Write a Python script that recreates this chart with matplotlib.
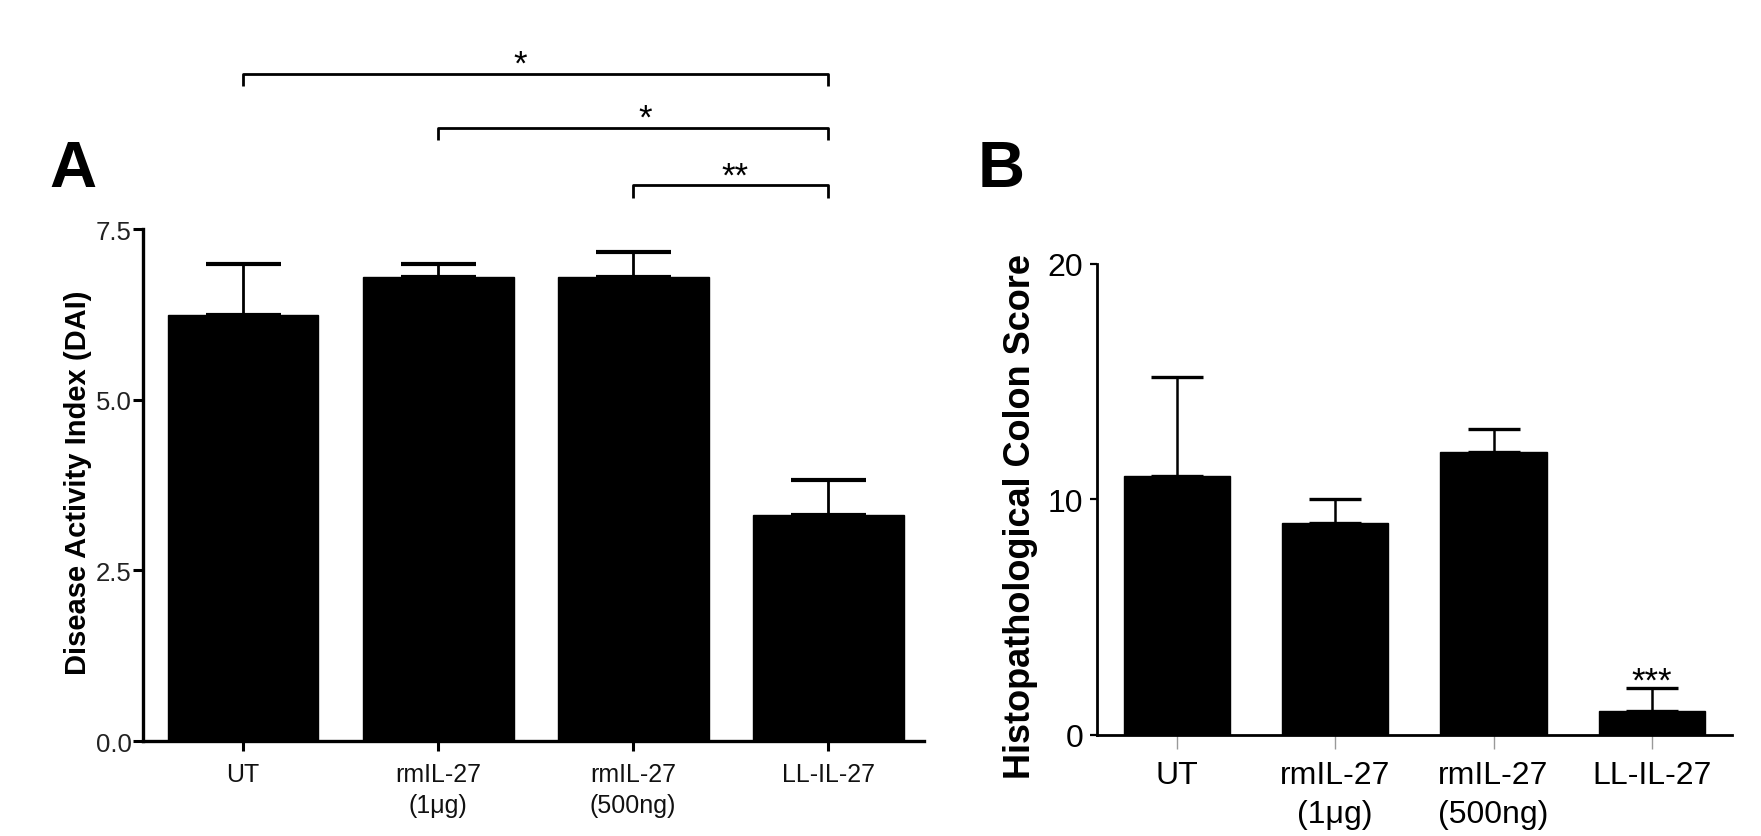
import matplotlib
matplotlib.use("Agg")
import matplotlib.pyplot as plt
import numpy as np

plt.rcParams['font.family'] = ['Liberation Sans', 'DejaVu Sans']

groups = ["UT", "rmIL-27\n(1μg)", "rmIL-27\n(500ng)", "LL-IL-27"]

# panel A - disease activity index
dai_mean = [6.24, 6.80, 6.80, 3.31]
dai_err = [0.75, 0.19, 0.36, 0.51]
# significance brackets: (start group, end group, height, label, label x)
brk_from = [0, 1, 2]
brk_to = [3, 3, 3]
brk_y = [9.77, 8.98, 8.14]
brk_txt = ["*", "*", "**"]
brk_tx = [1.42, 2.06, 2.52]

# panel B - histopathological colon score
histo_mean = [11, 9, 12, 1]
histo_err = [4.2, 1.0, 1.0, 1.0]

fig = plt.figure(figsize=(17.61, 8.37), dpi=100)

# ---------- A ----------
axA = fig.add_axes([0.0812, 0.1135, 0.4435, 0.6117])
x = np.arange(len(groups))
axA.bar(x, dai_mean, width=0.774, color='black', edgecolor='black', zorder=2)
axA.errorbar(x, dai_mean, yerr=[np.zeros(4), dai_err], fmt='none', ecolor='black',
             elinewidth=2.0, capsize=27, capthick=3.0, zorder=3)
axA.set_xlim(-0.513, 3.492)
axA.set_ylim(0, 7.5)
axA.set_yticks([0, 2.5, 5.0, 7.5])
axA.set_yticklabels(["0.0", "2.5", "5.0", "7.5"])
axA.set_xticks(x)
axA.set_xticklabels(groups, linespacing=1.4)
for s in ['top', 'right']:
    axA.spines[s].set_visible(False)
for s in ['left', 'bottom']:
    axA.spines[s].set_linewidth(2.4)
axA.tick_params(axis='y', length=7, width=2.2, pad=1, labelsize=18.5, labelcolor='#222')
axA.tick_params(axis='x', length=7, width=2.2, pad=8, labelsize=18, labelcolor='#111')
fig.text(78 / 1761, 1 - 483 / 837, "Disease Activity Index (DAI)", rotation=90,
         ha='center', va='center', fontsize=21, fontweight='bold')

for a, b, y, t, tx in zip(brk_from, brk_to, brk_y, brk_txt, brk_tx):
    axA.plot([a, a, b, b], [y - 0.18, y, y, y - 0.18], color='black', lw=2.0,
             clip_on=False, solid_capstyle='butt')
    axA.annotate(t, xy=(tx, y), xytext=(0, 0), textcoords='offset points',
                 ha='center', va='baseline', fontsize=25, annotation_clip=False)

fig.text(49 / 1761, 1 - 187 / 837, "A", fontsize=47, fontweight='bold', va='baseline')

# ---------- B ----------
axB = fig.add_axes([0.6229, 0.1207, 0.3606, 0.5627])
axB.bar(x, histo_mean, width=0.67, color='black', edgecolor='black', zorder=2)
axB.errorbar(x, histo_mean, yerr=[np.zeros(4), histo_err], fmt='none', ecolor='black',
             elinewidth=1.8, capsize=19, capthick=2.4, zorder=3)
axB.set_xlim(-0.505, 3.506)
axB.set_ylim(0, 20)
axB.set_yticks([0, 10, 20])
axB.set_xticks(x)
axB.set_xticklabels(groups, linespacing=1.4)
for s in ['top', 'right']:
    axB.spines[s].set_visible(False)
for s in ['left', 'bottom']:
    axB.spines[s].set_linewidth(2.0)
axB.tick_params(axis='y', length=5, width=1.6, pad=5, labelsize=23)
axB.tick_params(axis='x', length=10, width=1.0, color='#999999', pad=8, labelsize=23)
fig.text(1020 / 1761, 1 - 517 / 837, "Histopathological Colon Score", rotation=90,
         ha='center', va='center', fontsize=26, fontweight='bold')
axB.annotate("***", xy=(3, histo_mean[3] + histo_err[3]), xytext=(0, -2),
             textcoords='offset points', ha='center', va='baseline', fontsize=25)

fig.text(978 / 1761, 1 - 187 / 837, "B", fontsize=47, fontweight='bold', va='baseline')

fig.savefig("out.png", dpi=100)
